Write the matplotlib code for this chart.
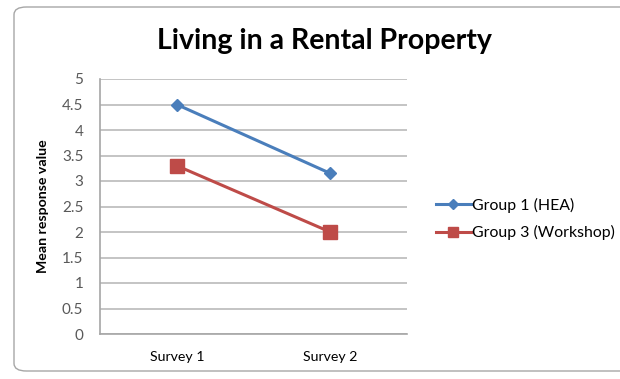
import matplotlib.pyplot as plt
from matplotlib.patches import FancyBboxPatch

# chart data
surveys = ['Survey 1', 'Survey 2']
group1_hea = [4.5, 3.15]
group3_workshop = [3.3, 2.0]
y_ticks = [0, 0.5, 1, 1.5, 2, 2.5, 3, 3.5, 4, 4.5, 5]

plt.rcParams['font.family'] = ['Lato', 'DejaVu Sans']

fig = plt.figure(figsize=(6.2, 3.79), dpi=100)
fig.patch.set_facecolor('white')

# rounded chart border
frame = FancyBboxPatch((14 / 620, 8 / 379), 640 / 620, 364 / 379,
                       boxstyle='round,pad=0,rounding_size=0.02',
                       transform=fig.transFigure, facecolor='white',
                       edgecolor='#a6a6a6', linewidth=1.0, zorder=-1)
fig.patches.append(frame)

ax = fig.add_axes([100 / 620, 1 - 334 / 379, 307 / 620, 255 / 379])
ax.set_zorder(2)
ax.patch.set_visible(False)
x = [0, 1]
ax.plot(x, group1_hea, color='#4a7ebb', linewidth=2.2, marker='D',
        markersize=6, label='Group 1 (HEA)', zorder=3)
ax.plot(x, group3_workshop, color='#be4b48', linewidth=2.2, marker='s',
        markersize=9.5, label='Group 3 (Workshop)', zorder=3)

ax.set_xlim(-0.5, 1.5)
ax.set_ylim(0, 5)
ax.set_yticks(y_ticks)
ax.set_yticklabels([f'{v:g}' for v in y_ticks])
ax.set_xticks(x)
ax.set_xticklabels(surveys)
ax.yaxis.grid(True, color='#c4c4c4', linewidth=1.4)
ax.set_axisbelow(True)
for side in ['top', 'right']:
    ax.spines[side].set_visible(False)
for side in ['left', 'bottom']:
    ax.spines[side].set_color('#a6a6a6')
    ax.spines[side].set_linewidth(1.2)
ax.tick_params(axis='y', length=0, pad=12, labelsize=11, labelcolor='#595959')
ax.tick_params(axis='x', length=0, pad=12, labelsize=10.2, labelcolor='black')

ax.set_ylabel('Mean response value', fontsize=10.2, fontweight='bold', labelpad=9)

fig.text(324 / 620, 1 - 41 / 379, 'Living in a Rental Property',
         ha='center', va='center', fontsize=20.5, fontweight='bold')

fig.legend(loc='center left', bbox_to_anchor=(436 / 620, 1 - 219 / 379),
           frameon=False, fontsize=11.4, handlelength=2.2, labelspacing=0.8,
           handletextpad=0.1, borderaxespad=0, borderpad=0, markerscale=0.8)

fig.savefig('out.png', dpi=100)
